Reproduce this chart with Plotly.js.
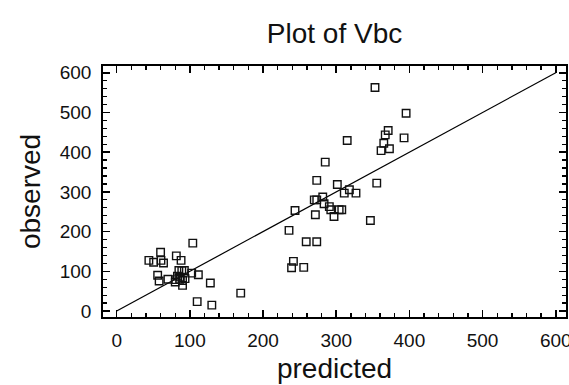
<!DOCTYPE html>
<html>
<head>
<meta charset="utf-8">
<script src="https://cdn.plot.ly/plotly-3.0.1.min.js"></script>
<style>html,body{margin:0;padding:0;background:#fff}#chart{width:569px;height:385px}</style>
</head>
<body>
<div id="chart"></div>
<script>
// predicted values (x)
const predicted = [
  44, 50.5, 60, 60.5, 64, 81.5, 88, 56, 58, 70,
  80.5, 85, 89, 92.5, 80, 87, 90, 90, 93.4, 102.5,
  111.6, 128, 169.5, 110, 130, 104, 83, 86,
  243.7, 235.5, 259, 273.4, 241.5, 239, 255.6,
  371, 367, 392.7, 365, 372.7, 361.3, 315, 285, 273.4, 301.5,
  355.4, 311, 318, 327, 281.6, 270, 273.4, 283.4, 290.6, 292.6,
  304, 307.6, 271.5, 297, 346.7, 353, 395.5
];
// observed values (y)
const observed = [
  127.5, 123, 148, 127.5, 121, 139, 127.5, 90, 75.5, 80,
  79, 102, 102, 102, 73, 85.5, 77, 64.7, 81.5, 95.6,
  91.5, 70.5, 45, 23.6, 15, 171, 88, 80,
  253, 203, 174.5, 174.5, 125, 109, 110,
  454.6, 443.7, 436, 422.6, 408.5, 404, 429.4, 375, 329, 318.7,
  322, 297, 305.4, 297, 287, 280, 280, 270, 263, 255,
  255, 255, 242.5, 238, 228, 563, 498
];
// reference line y = x
const lineX = [0, 600];
const lineY = [0, 600];
const tickVals = [0, 100, 200, 300, 400, 500, 600];
const tickText = ["0", "100", "200", "300", "400", "500", "600"];

const fontFam = "Liberation Sans, Arial, sans-serif";

const traces = [
  {x: lineX, y: lineY, type: 'scatter', mode: 'lines',
   line: {color: '#000', width: 1.2}, hoverinfo: 'skip', showlegend: false},
  {x: predicted, y: observed, type: 'scatter', mode: 'markers',
   marker: {symbol: 'square-open', size: 7.5, color: '#111', line: {width: 1.4, color: '#111'}},
   showlegend: false}
];

const axisCommon = {
  showgrid: false, zeroline: false,
  showline: true, linecolor: '#000', linewidth: 1.8,
  mirror: 'allticks',
  ticks: 'inside', ticklen: 7, tickwidth: 1.5, tickcolor: '#000',
  minor: {ticks: 'inside', ticklen: 4, tickwidth: 1.3, tickcolor: '#000', dtick: 20, showgrid: false},
  tickmode: 'array', tickvals: tickVals, ticktext: tickText,
  ticklabeloverflow: 'allow',
  tickfont: {family: fontFam, size: 19, color: '#111'}
};

const layout = {
  width: 569, height: 385,
  margin: {l: 103, r: 3, t: 66, b: 68},
  paper_bgcolor: '#fff', plot_bgcolor: '#fff',
  font: {family: fontFam, color: '#111'},
  title: {text: 'Plot of Vbc', font: {family: fontFam, size: 28, color: '#111'},
          x: 0.5, xref: 'paper', xanchor: 'center', y: 1 - 33/385, yref: 'container', yanchor: 'middle'},
  xaxis: Object.assign({}, axisCommon, {
    range: [-18.7, 614],
    ticklabelstandoff: 5,
    title: {text: 'predicted', font: {family: fontFam, size: 28, color: '#111'}, standoff: 9}
  }),
  yaxis: Object.assign({}, axisCommon, {
    range: [-15, 617],
    ticklabelstandoff: 6,
    title: {text: 'observed', font: {family: fontFam, size: 28, color: '#111'}, standoff: 11}
  })
};

Plotly.newPlot('chart', traces, layout, {displayModeBar: false, staticPlot: true});
</script>
</body>
</html>
